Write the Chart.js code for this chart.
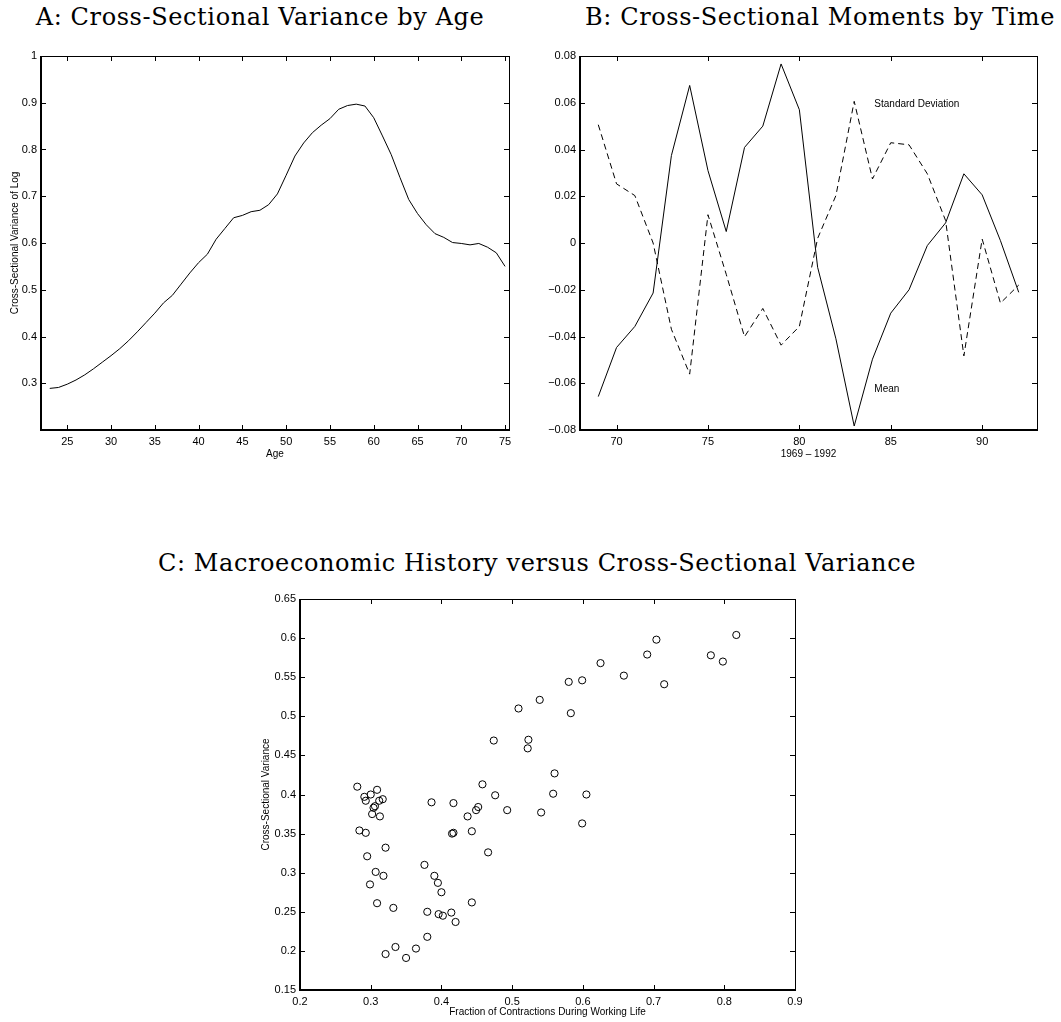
<!DOCTYPE html>
<html>
<head>
<meta charset="utf-8">
<script src="https://cdn.jsdelivr.net/npm/chart.js@4.4.1/dist/chart.umd.min.js"></script>
<style>
  body { margin: 0; background: #fff; }
  #page { position: relative; width: 1061px; height: 1022px; overflow: hidden; }
  .panel-title { position: absolute; font-family: "DejaVu Serif", serif; font-size: 24px; letter-spacing: 0.6px; color: #000; white-space: nowrap; transform: translateX(-50%); line-height: 1; }
  canvas { position: absolute; }
</style>
</head>
<body>
<div id="page">
  <div class="panel-title" style="left:260px; top:5px;">A: Cross-Sectional Variance by Age</div>
  <div class="panel-title" style="left:820px; top:5px;">B: Cross-Sectional Moments by Time</div>
  <div class="panel-title" style="left:537px; top:551px;">C: Macroeconomic History versus Cross-Sectional Variance</div>
  <canvas id="chartA" width="520" height="420" style="left:0; top:40px;"></canvas>
  <canvas id="chartB" width="541" height="420" style="left:520px; top:40px;"></canvas>
  <canvas id="chartC" width="640" height="442" style="left:200px; top:580px;"></canvas>
</div>
<script>
// Panel A: variance of log by age
const ages = [23, 24, 25, 26, 27, 28, 29, 30, 31, 32, 33, 34, 35, 36, 37, 38, 39, 40, 41, 42, 43, 44, 45, 46, 47, 48, 49,
              50, 51, 52, 53, 54, 55, 56, 57, 58, 59, 60, 61, 62, 63, 64, 65, 66, 67, 68, 69, 70, 71, 72, 73, 74, 75];
const ageVariance = [0.289, 0.291, 0.298, 0.307, 0.318, 0.331, 0.345, 0.359, 0.374, 0.391, 0.410, 0.430, 0.450, 0.472,
                     0.488, 0.512, 0.536, 0.558, 0.576, 0.608, 0.631, 0.654, 0.659, 0.667, 0.670, 0.682, 0.705, 0.745,
                     0.786, 0.814, 0.836, 0.852, 0.866, 0.886, 0.894, 0.897, 0.893, 0.868, 0.829, 0.789, 0.740, 0.693,
                     0.663, 0.639, 0.620, 0.612, 0.601, 0.599, 0.596, 0.599, 0.591, 0.579, 0.550];
const ageTicks = [25, 30, 35, 40, 45, 50, 55, 60, 65, 70, 75];
const ageVarTicks = [0.3, 0.4, 0.5, 0.6, 0.7, 0.8, 0.9, 1];

// Panel B: moments by year (1969-1992)
const years = [69, 70, 71, 72, 73, 74, 75, 76, 77, 78, 79, 80, 81, 82, 83, 84, 85, 86, 87, 88, 89, 90, 91, 92];
const meanValues = [-0.0657, -0.0447, -0.0357, -0.0214, 0.0374, 0.0674, 0.0310, 0.0049, 0.0409, 0.0500, 0.0766, 0.0570,
                    -0.0104, -0.0410, -0.0783, -0.0497, -0.0300, -0.0200, -0.0011, 0.0086, 0.0296, 0.0206, 0.0010, -0.0211];
const sdValues = [0.0506, 0.0253, 0.0203, 0.0000, -0.0369, -0.0561, 0.0121, -0.0134, -0.0401, -0.0280, -0.0437, -0.0357,
                  0.0020, 0.0203, 0.0606, 0.0274, 0.0429, 0.0420, 0.0296, 0.0096, -0.0483, 0.0017, -0.0257, -0.0180];
const yearTicks = [70, 75, 80, 85, 90];
const momentTicks = [-0.08, -0.06, -0.04, -0.02, 0, 0.02, 0.04, 0.06, 0.08];
const seriesLabels = ['Standard Deviation', 'Mean'];

// Panel C: fraction of contractions vs cross-sectional variance
const contractionShare = [0.281, 0.291, 0.293, 0.300, 0.309, 0.312, 0.317, 0.304, 0.306, 0.302, 0.313, 0.284, 0.293,
                          0.321, 0.295, 0.307, 0.318, 0.299, 0.309, 0.332, 0.321, 0.335, 0.350, 0.364, 0.380, 0.380,
                          0.396, 0.402, 0.414, 0.420, 0.376, 0.390, 0.395, 0.400, 0.443, 0.386, 0.417, 0.415, 0.417,
                          0.443, 0.437, 0.449, 0.452, 0.458, 0.466, 0.476, 0.493, 0.474, 0.509, 0.523, 0.522, 0.539,
                          0.580, 0.599, 0.583, 0.625, 0.658, 0.691, 0.704, 0.715, 0.781, 0.798, 0.817, 0.560, 0.558,
                          0.605, 0.541, 0.599];
const cohortVariance = [0.410, 0.397, 0.392, 0.400, 0.406, 0.392, 0.394, 0.383, 0.385, 0.375, 0.372, 0.354, 0.351,
                        0.332, 0.321, 0.301, 0.296, 0.285, 0.261, 0.255, 0.196, 0.205, 0.191, 0.203, 0.218, 0.250,
                        0.247, 0.245, 0.249, 0.237, 0.310, 0.296, 0.287, 0.275, 0.262, 0.390, 0.389, 0.350, 0.351,
                        0.353, 0.372, 0.380, 0.384, 0.413, 0.326, 0.399, 0.380, 0.469, 0.510, 0.470, 0.459, 0.521,
                        0.544, 0.546, 0.504, 0.568, 0.552, 0.579, 0.598, 0.541, 0.578, 0.570, 0.604, 0.427, 0.401,
                        0.400, 0.377, 0.363];
const shareTicks = [0.2, 0.3, 0.4, 0.5, 0.6, 0.7, 0.8, 0.9];
const varianceTicks = [0.15, 0.2, 0.25, 0.3, 0.35, 0.4, 0.45, 0.5, 0.55, 0.6, 0.65];

Chart.defaults.font.family = '"Liberation Sans", Arial, sans-serif';
Chart.defaults.font.size = 11;
Chart.defaults.color = '#000';
Chart.defaults.animation = false;
Chart.defaults.devicePixelRatio = 1;

// matlab style box with inward ticks on all four sides
const matlabFrame = {
  id: 'matlabFrame',
  afterDatasetsDraw(chart) {
    const { ctx, chartArea: a } = chart;
    const xs = chart.scales.x, ys = chart.scales.y;
    ctx.save();
    ctx.strokeStyle = '#000';
    ctx.lineWidth = 1;
    ctx.beginPath();
    xs.ticks.forEach(t => {
      const px = Math.round(xs.getPixelForValue(t.value)) + 0.5;
      ctx.moveTo(px, a.bottom); ctx.lineTo(px, a.bottom - 5);
      ctx.moveTo(px, a.top); ctx.lineTo(px, a.top + 5);
    });
    ys.ticks.forEach(t => {
      const py = Math.round(ys.getPixelForValue(t.value)) + 0.5;
      ctx.moveTo(a.left, py); ctx.lineTo(a.left + 5, py);
      ctx.moveTo(a.right, py); ctx.lineTo(a.right - 5, py);
    });
    ctx.moveTo(a.left, Math.round(a.top) + 0.5); ctx.lineTo(a.right, Math.round(a.top) + 0.5);
    ctx.moveTo(Math.round(a.right) + 0.5, a.top); ctx.lineTo(Math.round(a.right) + 0.5, a.bottom);
    ctx.stroke();
    ctx.lineWidth = 2;
    ctx.beginPath();
    ctx.moveTo(Math.round(a.left), a.top); ctx.lineTo(Math.round(a.left), Math.round(a.bottom));
    ctx.lineTo(a.right + 1, Math.round(a.bottom));
    ctx.stroke();
    ctx.restore();
  }
};

function fixedTicks(values) {
  return scale => { scale.ticks = values.map(v => ({ value: v })); };
}

function axis(min, max, ticks, size, title, fmt) {
  const horizontal = size.h !== undefined;
  return {
    type: 'linear',
    min: min,
    max: max,
    afterBuildTicks: fixedTicks(ticks),
    afterFit: scale => { if (horizontal) scale.height = size.h; else scale.width = size.w; },
    grid: { display: false, drawTicks: false },
    border: { display: false },
    ticks: { padding: horizontal ? 5 : 4, autoSkip: false, maxRotation: 0, callback: fmt || (v => String(v)) },
    title: { display: !!title, text: title, font: { size: 10 }, padding: { top: 0, bottom: 0 } }
  };
}

const minusFmt = v => (v < 0 ? '\u2212' + String(-v) : String(v));

new Chart(document.getElementById('chartA'), {
  type: 'line',
  data: {
    datasets: [{
      data: ages.map((a, i) => ({ x: a, y: ageVariance[i] })),
      borderColor: '#000',
      borderWidth: 1,
      pointRadius: 0,
      tension: 0
    }]
  },
  options: {
    responsive: false,
    layout: { padding: { left: 9, right: 11, top: 16, bottom: 0 } },
    plugins: { legend: { display: false }, tooltip: { enabled: false } },
    scales: {
      x: axis(22, 75.45, ageTicks, { h: 30 }, 'Age'),
      y: axis(0.2, 1, ageVarTicks, { w: 32 }, 'Cross-Sectional Variance of Log')
    }
  },
  plugins: [matlabFrame]
});

const seriesText = {
  id: 'seriesText',
  afterDatasetsDraw(chart) {
    const { ctx } = chart;
    const xs = chart.scales.x, ys = chart.scales.y;
    const spots = [[84.1, 0.0595], [84.1, -0.0625]];
    ctx.save();
    ctx.font = '10px "Liberation Sans", Arial, sans-serif';
    ctx.fillStyle = '#000';
    ctx.textBaseline = 'middle';
    seriesLabels.forEach((lab, i) => {
      ctx.fillText(lab, xs.getPixelForValue(spots[i][0]), ys.getPixelForValue(spots[i][1]));
    });
    ctx.restore();
  }
};

new Chart(document.getElementById('chartB'), {
  type: 'line',
  data: {
    datasets: [{
      label: seriesLabels[1],
      data: years.map((y, i) => ({ x: y, y: meanValues[i] })),
      borderColor: '#000',
      borderWidth: 1,
      pointRadius: 0,
      tension: 0
    }, {
      label: seriesLabels[0],
      data: years.map((y, i) => ({ x: y, y: sdValues[i] })),
      borderColor: '#000',
      borderWidth: 1,
      borderDash: [6, 4],
      pointRadius: 0,
      tension: 0
    }]
  },
  options: {
    responsive: false,
    layout: { padding: { left: 0, right: 24, top: 16, bottom: 0 } },
    plugins: { legend: { display: false }, tooltip: { enabled: false } },
    scales: {
      x: axis(68, 93, yearTicks, { h: 30 }, '1969 \u2013 1992'),
      y: axis(-0.08, 0.08, momentTicks, { w: 60 }, '', minusFmt)
    }
  },
  plugins: [matlabFrame, seriesText]
});

new Chart(document.getElementById('chartC'), {
  type: 'scatter',
  data: {
    datasets: [{
      data: contractionShare.map((f, i) => ({ x: f, y: cohortVariance[i] })),
      borderColor: '#000',
      backgroundColor: 'rgba(0,0,0,0)',
      borderWidth: 1,
      pointRadius: 3.6,
      pointStyle: 'circle'
    }]
  },
  options: {
    responsive: false,
    layout: { padding: { left: 60, right: 45, top: 19, bottom: 4 } },
    plugins: { legend: { display: false }, tooltip: { enabled: false } },
    scales: {
      x: axis(0.2, 0.9, shareTicks, { h: 28 }, 'Fraction of Contractions During Working Life'),
      y: axis(0.15, 0.65, varianceTicks, { w: 40 }, 'Cross-Sectional Variance')
    }
  },
  plugins: [matlabFrame]
});
</script>
</body>
</html>
